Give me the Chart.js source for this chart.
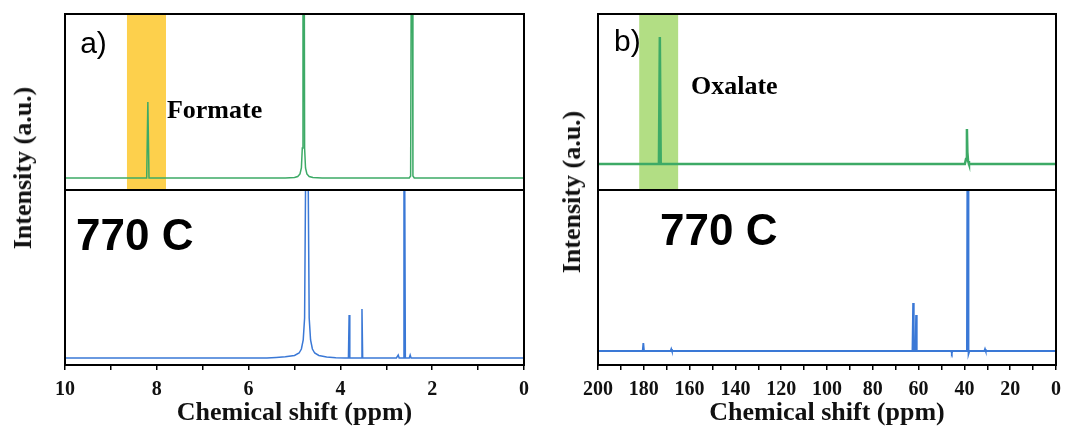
<!DOCTYPE html>
<html>
<head>
<meta charset="utf-8">
<script src="https://cdn.jsdelivr.net/npm/chart.js@4/dist/chart.umd.min.js"></script>
<style>
  html, body { margin: 0; padding: 0; background: #fff; }
  #fig { position: relative; width: 1065px; height: 432px; overflow: hidden; }
  .box { position: absolute; }
  .ytitle {
    position: absolute; white-space: nowrap;
    font: bold 26px "Liberation Serif", "Times New Roman", serif; color: #111;
    transform: translate(-50%, -50%) rotate(-90deg);
  }
</style>
</head>
<body>
<div id="fig">
  <div class="box" style="left:0;top:0;width:540px;height:190px"><canvas id="aTop"></canvas></div>
  <div class="box" style="left:0;top:190px;width:540px;height:242px"><canvas id="aBot"></canvas></div>
  <div class="box" style="left:540px;top:0;width:525px;height:190px"><canvas id="bTop"></canvas></div>
  <div class="box" style="left:540px;top:190px;width:545px;height:242px"><canvas id="bBot"></canvas></div>
  <div class="ytitle" style="left:23px;top:168px">Intensity (a.u.)</div>
  <div class="ytitle" style="left:572px;top:192px">Intensity (a.u.)</div>
</div>
<script>
// ---- chemical-shift ranges and tick steps (ppm) ----
const ppmRangeH = [10, 0];
const ppmRangeC = [200, 0];
const tickStepH = 1, labelStepH = 2;
const tickStepC = 10, labelStepC = 20;

// ---- highlighted product regions (ppm) ----
const formateBand = [8.65, 7.80];
const oxalateBand = [182, 165];

// ---- 1H NMR, product sample: [ppm, intensity] ----
const protonProduct = [
  [10, 0], [8.22, 0], [8.195, 76], [8.17, 0],
  [5.2, 0], [5.0, 0.5], [4.93, 1.5], [4.88, 4], [4.85, 10], [4.83, 30],
  [4.815, 400], [4.795, 400], [4.78, 30], [4.76, 10], [4.73, 4], [4.68, 1.5], [4.6, 0.5], [4.4, 0],
  [2.50, 0], [2.47, 2], [2.45, 300], [2.435, 300], [2.42, 2], [2.39, 0], [0, 0]
];

// ---- 1H NMR, 770 C reference: [ppm, intensity] ----
const protonRef = [
  [10, 0], [5.6, 0], [5.4, 0.5], [5.2, 1.2], [5.0, 2.5], [4.9, 5], [4.85, 9], [4.81, 18], [4.78, 40],
  [4.755, 200], [4.705, 200], [4.68, 40], [4.65, 18], [4.61, 9], [4.56, 5], [4.47, 2.5], [4.3, 1], [4.1, 0.3], [3.9, 0],
  [3.825, 0], [3.81, 43], [3.795, 0],
  [3.545, 0], [3.53, 49], [3.515, 0],
  [2.78, 0], [2.74, 3], [2.72, 0],
  [2.63, 0], [2.615, 200], [2.60, 200], [2.585, 0],
  [2.50, 0], [2.48, 3], [2.46, 0], [0, 0]
];

// ---- 13C NMR, product sample: [ppm, intensity] ----
const carbonProduct = [
  [200, 0], [173.4, 0], [173.0, 127], [172.6, 0],
  [39.8, 0], [39.3, 5], [38.9, 35], [38.7, 12], [38.4, 3], [38.0, 0], [0, 0]
];

// ---- 13C NMR, 770 C reference: [ppm, intensity] ----
const carbonRef = [
  [200, 0], [180.5, 0], [180.2, 8], [179.9, 0],
  [168.3, 0], [168.0, 2], [167.7, 0],
  [62.7, 0], [62.4, 48], [62.1, 0],
  [61.4, 0], [61.1, 36], [60.8, 0],
  [45.8, 0], [45.5, -2], [45.2, 0],
  [39.3, 0], [38.9, 8], [38.7, 200], [38.4, 200], [38.2, -3], [37.8, 0],
  [31.3, 0], [31.0, 2], [30.7, 0], [0, 0]
];

const SERIF = '"Liberation Serif", "Times New Roman", serif';
const SANS = '"Liberation Sans", Arial, sans-serif';

// frame, highlight band and in-plot labels
const panelDecor = {
  id: 'panelDecor',
  beforeDatasetsDraw(chart, args, opts) {
    const { ctx, chartArea: a, scales: { x } } = chart;
    if (opts.band) {
      const x1 = x.getPixelForValue(opts.band.range[0]);
      const x2 = x.getPixelForValue(opts.band.range[1]);
      ctx.save();
      ctx.fillStyle = opts.band.color;
      ctx.fillRect(Math.min(x1, x2), a.top, Math.abs(x2 - x1), a.bottom - a.top);
      ctx.restore();
    }
  },
  afterDatasetsDraw(chart, args, opts) {
    const { ctx, scales: { x, y } } = chart;
    (opts.notes || []).forEach(n => {
      ctx.save();
      ctx.font = n.font;
      ctx.fillStyle = '#000';
      ctx.textAlign = 'left';
      ctx.textBaseline = 'middle';
      ctx.fillText(n.text, x.getPixelForValue(n.x), y.getPixelForValue(n.y));
      ctx.restore();
    });
  },
  afterDraw(chart) {
    const { ctx, chartArea: a } = chart;
    ctx.save();
    ctx.strokeStyle = '#000';
    ctx.lineWidth = 2;
    ctx.strokeRect(a.left, a.top, a.right - a.left, a.bottom - a.top);
    ctx.restore();
  }
};

function makeChart(id, opt) {
  const xScale = {
    type: 'linear', reverse: true,
    min: opt.range[1], max: opt.range[0],
    display: opt.showAxis,
    border: { display: false },
    grid: { drawOnChartArea: false, drawTicks: true, tickLength: 5, color: '#000', lineWidth: 1.5 },
    ticks: {
      stepSize: opt.step, autoSkip: false, maxRotation: 0, padding: 8,
      color: '#111', font: { family: SERIF, size: 20, weight: 'bold' },
      callback: v => (Math.round(v) % opt.labelStep === 0 ? String(v) : '')
    },
    title: {
      display: true, text: 'Chemical shift (ppm)', color: '#111',
      font: { family: SERIF, size: 26, weight: 'bold' },
      padding: { top: 0, bottom: 3 }
    }
  };
  if (opt.showAxis) {
    // fixed axis band below the plot area
    xScale.afterFit = s => { s.height = 67; };
  }
  return new Chart(document.getElementById(id), {
    type: 'line',
    data: {
      datasets: [{
        data: opt.data.map(p => ({ x: p[0], y: p[1] })),
        borderColor: opt.color, borderWidth: opt.width,
        pointRadius: 0, tension: 0, fill: false, clip: 0
      }]
    },
    options: {
      responsive: true, maintainAspectRatio: false, animation: false,
      events: [],
      layout: { padding: opt.padding },
      plugins: {
        legend: { display: false }, tooltip: { enabled: false },
        panelDecor: { band: opt.band, notes: opt.notes }
      },
      scales: {
        x: xScale,
        y: { type: 'linear', display: false, min: opt.yRange[0], max: opt.yRange[1] }
      }
    },
    plugins: [panelDecor]
  });
}

const GREEN = '#3daa66';
const BLUE = '#3a78d6';

makeChart('aTop', {
  data: protonProduct, color: GREEN, width: 1.5,
  range: ppmRangeH, step: tickStepH, labelStep: labelStepH, showAxis: false,
  yRange: [-12, 164], padding: { left: 65, right: 16, top: 14, bottom: 0 },
  band: { range: formateBand, color: '#fdd04c' },
  notes: [
    { text: 'a)', x: 9.67, y: 133, font: '30px ' + SANS },
    { text: 'Formate', x: 7.78, y: 67, font: 'bold 26px ' + SERIF }
  ]
});
makeChart('aBot', {
  data: protonRef, color: BLUE, width: 1.5,
  range: ppmRangeH, step: tickStepH, labelStep: labelStepH, showAxis: true,
  yRange: [-7, 168], padding: { left: 65, right: 16, top: 0, bottom: 0 },
  notes: [{ text: '770 C', x: 9.76, y: 120, font: 'bold 44px ' + SANS }]
});
makeChart('bTop', {
  data: carbonProduct, color: GREEN, width: 2.5,
  range: ppmRangeC, step: tickStepC, labelStep: labelStepC, showAxis: false,
  yRange: [-26, 150], padding: { left: 58, right: 9, top: 14, bottom: 0 },
  band: { range: oxalateBand, color: '#b2de84' },
  notes: [
    { text: 'b)', x: 193, y: 121, font: '30px ' + SANS },
    { text: 'Oxalate', x: 159.4, y: 77, font: 'bold 26px ' + SERIF }
  ]
});
makeChart('bBot', {
  data: carbonRef, color: BLUE, width: 1.8,
  range: ppmRangeC, step: tickStepC, labelStep: labelStepC, showAxis: true,
  yRange: [-14, 161], padding: { left: 58, right: 29, top: 0, bottom: 0 },
  notes: [{ text: '770 C', x: 172.9, y: 118, font: 'bold 44px ' + SANS }]
});
</script>
</body>
</html>
